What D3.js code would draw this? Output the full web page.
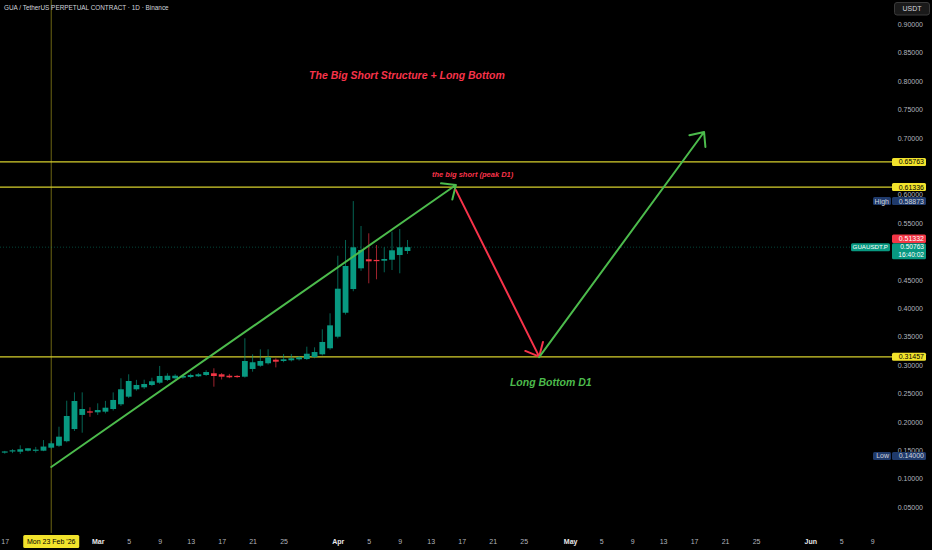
<!DOCTYPE html>
<html lang="en">
<head>
  <meta charset="UTF-8" />
  <title>GUA / TetherUS PERPETUAL CONTRACT</title>
  <script src="https://d3js.org/d3.v7.min.js"></script>
  <style>
    body {
      margin: 0;
      background-color: #000;
      font-family: "Liberation Sans", Arial, sans-serif;
    }
    svg { display: block; background-color: #000; }
    .axis text { fill: #b2b5be; font-size: 7px; }
    .axis .month { fill: #e8e8ea; font-weight: bold; }
  </style>
</head>
<body>

<svg id="chart" width="932" height="550"></svg>

<script>
  // candles, one per day
  const dates = [
    "2026-02-17","2026-02-18","2026-02-19","2026-02-20","2026-02-21","2026-02-22","2026-02-23",
    "2026-02-24","2026-02-25","2026-02-26","2026-02-27","2026-02-28","2026-03-01","2026-03-02",
    "2026-03-03","2026-03-04","2026-03-05","2026-03-06","2026-03-07","2026-03-08","2026-03-09",
    "2026-03-10","2026-03-11","2026-03-12","2026-03-13","2026-03-14","2026-03-15","2026-03-16",
    "2026-03-17","2026-03-18","2026-03-19","2026-03-20","2026-03-21","2026-03-22","2026-03-23",
    "2026-03-24","2026-03-25","2026-03-26","2026-03-27","2026-03-28","2026-03-29","2026-03-30",
    "2026-03-31","2026-04-01","2026-04-02","2026-04-03","2026-04-04","2026-04-05","2026-04-06",
    "2026-04-07","2026-04-08","2026-04-09","2026-04-10"
  ];
  const opens = [
    0.146, 0.148, 0.1475, 0.1493, 0.151, 0.1493, 0.1546,
    0.158, 0.166, 0.1874, 0.2123, 0.2185, 0.2169, 0.218,
    0.2227, 0.231, 0.2444, 0.2574, 0.2609, 0.265, 0.269,
    0.2738, 0.2768, 0.278, 0.279, 0.2803, 0.2826, 0.2856,
    0.2838, 0.2813, 0.281, 0.2796, 0.2932, 0.2989, 0.3032,
    0.3095, 0.3072, 0.3085, 0.3102, 0.3107, 0.3142, 0.319,
    0.3296, 0.35, 0.3922, 0.4339, 0.4704, 0.4863, 0.4852,
    0.4838, 0.4855, 0.4938, 0.5009
  ];
  const highs = [
    0.149, 0.152, 0.1588, 0.1535, 0.156, 0.168, 0.166,
    0.1915, 0.2373, 0.252, 0.252, 0.2257, 0.2327, 0.237,
    0.252, 0.2768, 0.2838, 0.274, 0.2743, 0.2778, 0.2985,
    0.2856, 0.284, 0.283, 0.285, 0.286, 0.291, 0.2944,
    0.286, 0.2845, 0.2825, 0.3472, 0.319, 0.3278, 0.3278,
    0.312, 0.3196, 0.3196, 0.316, 0.3324, 0.3313, 0.363,
    0.3912, 0.4926, 0.5203, 0.58873, 0.5449, 0.532, 0.5114,
    0.5074, 0.5349, 0.5396, 0.5203
  ];
  const lows = [
    0.144, 0.145, 0.1435, 0.148, 0.146, 0.1485, 0.153,
    0.156, 0.164, 0.184, 0.181, 0.209, 0.2122, 0.215,
    0.220, 0.228, 0.242, 0.255, 0.258, 0.263, 0.267,
    0.272, 0.275, 0.276, 0.277, 0.279, 0.281, 0.262,
    0.2747, 0.277, 0.2775, 0.278, 0.2884, 0.297, 0.301,
    0.296, 0.305, 0.3065, 0.308, 0.309, 0.312, 0.317,
    0.327, 0.347, 0.389, 0.43, 0.466, 0.444, 0.4511,
    0.4634, 0.4674, 0.4616, 0.4956
  ];
  const closes = [
    0.148, 0.150, 0.1518, 0.1535, 0.1512, 0.1566, 0.1623,
    0.174, 0.2104, 0.2368, 0.2227, 0.2175, 0.2209, 0.225,
    0.2386, 0.2574, 0.272, 0.265, 0.2667, 0.2715, 0.2808,
    0.2813, 0.2813, 0.281, 0.2826, 0.2838, 0.2878, 0.2808,
    0.2796, 0.2785, 0.2792, 0.3072, 0.305, 0.3072, 0.3137,
    0.306, 0.3102, 0.312, 0.3137, 0.32, 0.323, 0.3407,
    0.37, 0.4345, 0.4745, 0.5074, 0.5026, 0.4827, 0.483,
    0.4868, 0.5021, 0.5074, 0.50763
  ];

  // axis ticks (the ones hidden behind price tags are left out)
  const priceTicks = [0.05, 0.10, 0.15, 0.20, 0.25, 0.30, 0.35, 0.40, 0.45,
                      0.55, 0.60, 0.70, 0.75, 0.80, 0.85, 0.90];
  const timeTicks = [
    "2026-02-17",
    "2026-03-01","2026-03-05","2026-03-09","2026-03-13","2026-03-17","2026-03-21","2026-03-25",
    "2026-04-01","2026-04-05","2026-04-09","2026-04-13","2026-04-17","2026-04-21","2026-04-25",
    "2026-05-01","2026-05-05","2026-05-09","2026-05-13","2026-05-17","2026-05-21","2026-05-25",
    "2026-06-01","2026-06-05","2026-06-09"
  ];

  // horizontal levels and labels on the price scale
  const levels = [0.65763, 0.61336, 0.31457];
  const lastPrice = 0.50763;
  const prevPrice = 0.51332;
  const highPrice = 0.58873;
  const lowPrice = 0.14000;
  const countdown = "16:40:02";
  const cursorDate = "2026-02-23";

  // drawings
  const arrowStarts = [["2026-02-23T00:00Z", 0.1206], ["2026-04-16T06:00Z", 0.6080], ["2026-04-27T00:00Z", 0.3140]];
  const arrowEnds   = [["2026-04-16T06:00Z", 0.6171], ["2026-04-27T00:00Z", 0.3150], ["2026-05-18T07:00Z", 0.7104]];
  const arrowColors = ["#4cbb4c", "#f7334a", "#4cbb4c"];

  const noteTexts  = ["The Big Short Structure + Long Bottom", "the big short (peak D1)", "Long Bottom D1"];
  const noteAnchors = [["2026-03-28T07:00Z", 0.8037], ["2026-04-13T04:00Z", 0.6303], ["2026-04-23T05:30Z", 0.2632]];
  const noteColors = ["#f7334a", "#f7334a", "#4cbb4c"];
  const noteSizes  = [10.5, 7.5, 10.5];

  const UP = "#089981", DOWN = "#f23645", YELLOW = "#f2e32c", NAVY = "#1f3a6b";
  const DAY = 864e5;
  const W = 932, H = 550;

  const svg = d3.select("#chart");

  const candles = dates.map((d, i) => ({
    date: new Date(d), o: opens[i], h: highs[i], l: lows[i], c: closes[i]
  }));

  const mar1 = Date.UTC(2026, 2, 1);
  const x = d3.scaleUtc()
    .domain([new Date(mar1 - 12.615 * DAY), new Date(mar1 + 107.72 * DAY)])
    .range([0, W]);
  const y = d3.scaleLinear().domain([0, 0.9]).range([535.5, 24.3]);

  // price axis
  const yAxis = svg.append("g")
    .attr("class", "axis")
    .attr("transform", "translate(923,0)")
    .call(d3.axisLeft(y).tickValues(priceTicks).tickFormat(d3.format(".5f")).tickSize(0).tickPadding(0));
  yAxis.select(".domain").remove();

  // time axis
  const monthStart = d => d.getUTCDate() === 1;
  const xAxis = svg.append("g")
    .attr("class", "axis")
    .attr("transform", "translate(0,539)")
    .call(d3.axisBottom(x)
      .tickValues(timeTicks.map(d => new Date(d)))
      .tickFormat(d => monthStart(d) ? d3.utcFormat("%b")(d) : d3.utcFormat("%-d")(d))
      .tickSize(0).tickPadding(0));
  xAxis.select(".domain").remove();
  xAxis.selectAll(".tick text").classed("month", d => monthStart(d));

  // cursor line
  svg.append("line")
    .attr("x1", x(new Date(cursorDate))).attr("x2", x(new Date(cursorDate)))
    .attr("y1", 0).attr("y2", 533)
    .style("stroke", YELLOW).style("stroke-opacity", 0.45).style("stroke-width", 1);

  // last price dotted line
  svg.append("line")
    .attr("x1", 0).attr("x2", 850)
    .attr("y1", y(lastPrice)).attr("y2", y(lastPrice))
    .style("stroke", UP).style("stroke-opacity", 0.45)
    .style("stroke-dasharray", "1,2").style("stroke-width", 1);

  // horizontal levels
  svg.append("g").selectAll("line")
    .data(levels)
    .enter().append("line")
    .attr("x1", 0).attr("x2", 892)
    .attr("y1", d => y(d)).attr("y2", d => y(d))
    .style("stroke", "#d6cf2c").style("stroke-width", 1.3);

  // candles
  const cg = svg.append("g").attr("class", "candles");
  const color = d => d.c >= d.o ? UP : DOWN;
  cg.selectAll("line")
    .data(candles)
    .enter().append("line")
    .attr("x1", d => x(d.date)).attr("x2", d => x(d.date))
    .attr("y1", d => y(d.h)).attr("y2", d => y(d.l))
    .style("stroke", color).style("stroke-width", 1).style("stroke-opacity", 0.65);
  cg.selectAll("rect")
    .data(candles)
    .enter().append("rect")
    .attr("x", d => x(d.date) - 2.9)
    .attr("width", 5.8)
    .attr("y", d => y(Math.max(d.o, d.c)))
    .attr("height", d => Math.max(1.2, Math.abs(y(d.o) - y(d.c))))
    .style("fill", color);

  // arrows
  const ag = svg.append("g").attr("class", "arrows");
  arrowStarts.forEach((s, i) => {
    const x1 = x(new Date(s[0])), y1 = y(s[1]);
    const x2 = x(new Date(arrowEnds[i][0])), y2 = y(arrowEnds[i][1]);
    const ang = Math.atan2(y1 - y2, x1 - x2);
    const len = 15, spread = 0.72;
    const p = "M" + x1 + "," + y1 + "L" + x2 + "," + y2 +
      "M" + (x2 + len * Math.cos(ang + spread)) + "," + (y2 + len * Math.sin(ang + spread)) +
      "L" + x2 + "," + y2 +
      "L" + (x2 + len * Math.cos(ang - spread)) + "," + (y2 + len * Math.sin(ang - spread));
    ag.append("path")
      .attr("d", p)
      .style("fill", "none")
      .style("stroke", arrowColors[i])
      .style("stroke-width", 2)
      .style("stroke-linecap", "round")
      .style("stroke-linejoin", "round");
  });

  // notes
  svg.append("g").selectAll("text")
    .data(noteTexts)
    .enter().append("text")
    .attr("x", (d, i) => x(new Date(noteAnchors[i][0])))
    .attr("y", (d, i) => y(noteAnchors[i][1]))
    .text(d => d)
    .style("fill", (d, i) => noteColors[i])
    .style("font-size", (d, i) => noteSizes[i] + "px")
    .style("font-weight", "bold")
    .style("font-style", "italic");

  // chart title
  svg.append("text")
    .attr("x", 4).attr("y", 10)
    .text("GUA / TetherUS PERPETUAL CONTRACT · 1D · Binance")
    .style("fill", "#d1d4dc").style("font-size", "6.4px");

  // price scale labels
  function tag(x0, x1, yc, h, fill, label, textFill, size) {
    const g = svg.append("g");
    g.append("rect")
      .attr("x", x0).attr("y", yc - h / 2).attr("width", x1 - x0).attr("height", h)
      .attr("rx", 1.5)
      .style("fill", fill);
    g.append("text")
      .attr("x", x1 - 2).attr("y", yc).attr("dy", "0.35em")
      .attr("text-anchor", "end")
      .text(label)
      .style("fill", textFill).style("font-size", (size || 7) + "px");
    return g;
  }

  levels.forEach(v => tag(892, 926, y(v), 8, YELLOW, d3.format(".5f")(v), "#000"));

  tag(873, 891, y(highPrice), 8, NAVY, "High", "#d1d4dc");
  tag(892, 926, y(highPrice), 8, NAVY, d3.format(".5f")(highPrice), "#d1d4dc");
  tag(873, 891, y(lowPrice), 8, NAVY, "Low", "#d1d4dc");
  tag(892, 926, y(lowPrice), 8, NAVY, d3.format(".5f")(lowPrice), "#d1d4dc");

  const yl = y(lastPrice);
  tag(892, 926, yl - 8.4, 8.6, DOWN, d3.format(".5f")(prevPrice), "#fff");
  svg.append("rect")
    .attr("x", 892).attr("y", yl - 4).attr("width", 34).attr("height", 16).attr("rx", 1.5)
    .style("fill", UP);
  svg.append("text")
    .attr("x", 924).attr("y", yl).attr("dy", "0.35em").attr("text-anchor", "end")
    .text(d3.format(".5f")(lastPrice))
    .style("fill", "#fff").style("font-size", "6.6px");
  svg.append("text")
    .attr("x", 924).attr("y", yl + 8).attr("dy", "0.35em").attr("text-anchor", "end")
    .text(countdown)
    .style("fill", "#fff").style("font-size", "6.6px");
  tag(851, 890, yl, 8, UP, "GUAUSDT.P", "#fff", 6.2);

  // currency box
  svg.append("rect")
    .attr("x", 894.5).attr("y", 2.5).attr("width", 35).attr("height", 12.5).attr("rx", 2.5)
    .style("fill", "#1a1a1a").style("stroke", "#3a3a3a");
  svg.append("text")
    .attr("x", 912).attr("y", 9).attr("dy", "0.35em").attr("text-anchor", "middle")
    .text("USDT")
    .style("fill", "#d1d4dc").style("font-size", "7px");

  // cursor date label
  const cx = x(new Date(cursorDate));
  svg.append("rect")
    .attr("x", cx - 28).attr("y", 535).attr("width", 56).attr("height", 13).attr("rx", 1.5)
    .style("fill", YELLOW);
  svg.append("text")
    .attr("x", cx).attr("y", 541.5).attr("dy", "0.35em").attr("text-anchor", "middle")
    .text("Mon 23 Feb '26")
    .style("fill", "#000").style("font-size", "7px");
</script>

</body>
</html>
